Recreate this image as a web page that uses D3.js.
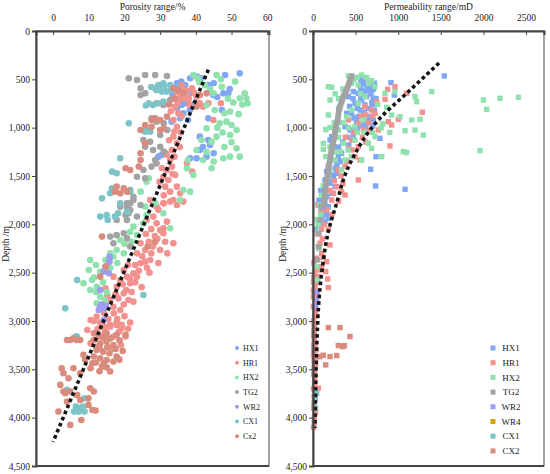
<!DOCTYPE html>
<html>
<head>
<meta charset="utf-8">
<script src="https://cdn.jsdelivr.net/npm/d3@7.9.0/dist/d3.min.js"></script>
<style>
  body { margin: 0; background: #fff; }
</style>
</head>
<body>
<script>
// ** Series names & colours **
const wellNamesLeft = ["HX1", "HR1", "HX2", "TG2", "WR2", "CX1", "Cx2"];
const wellNamesRight = ["HX1", "HR1", "HX2", "TG2", "WR2", "WR4", "CX1", "CX2"];
const wellColors = {
  HX1: "#7fa7f4", HR1: "#f3918e", HX2: "#8fe1ae", TG2: "#a3a3a3",
  WR2: "#a09cf0", WR4: "#d9a106", CX1: "#7cc4c8", Cx2: "#d98b7d", CX2: "#d98b7d"
};

// ** Tick values **
const porosityTicks = [0, 10, 20, 30, 40, 50, 60];
const permTicks = [0, 500, 1000, 1500, 2000, 2500];
const depthTicks = [0, 500, 1000, 1500, 2000, 2500, 3000, 3500, 4000, 4500];

// ** Porosity (%) vs depth (m) **
const porHX1 = [[52.3,438],[34.7,540],[35.9,524],[37,558],[38.4,490],[40.3,472],[41.5,490],[43.5,558],[44.9,662],[47.7,645],[49.1,645],[35.6,714],[36,765],[37,748],[34.7,800],[36.5,851],[37.8,920],[35.6,903],[43.5,903],[41.1,1093],[43.5,1128],[44,1180],[45,1265],[43,1300],[40.2,1317],[38.4,1317],[41.1,1231],[30.4,1283],[31.5,1265],[29.5,1300],[33.2,938],[37,696],[39.8,748],[38.3,817],[45,540],[46,683],[47.3,817],[49.5,600],[42,1200],[36.2,620],[33.5,660],[38.5,640],[48.2,455]];
const porHR1 = [[34.7,628],[35.6,679],[37,645],[38.9,593],[40.2,679],[41.1,748],[42,782],[34.2,782],[35.1,851],[33.7,920],[34.7,990],[33.7,1093],[34.7,1162],[33.3,1231],[32.8,1334],[31.9,1438],[33.3,1403],[32.3,1541],[34.2,1489],[32.8,1662],[34.7,1610],[30.9,1507],[31.4,1610],[35.6,1679],[33.7,1748],[31,1783],[36.5,1765],[39,1455],[37.5,1369],[43.5,748],[44.9,920],[47,748],[36,560],[38,700],
  [27.2,1748],[29,1817],[30.9,1782],[32.8,1765],[34.7,1800],[28.1,1920],[29,1990],[31.9,1972],[30.9,2041],[26.2,1955],[24.5,2196],[26.8,2180],[28,2230],[30,2265],[25.8,2265],[23.5,2300],[24.5,2403],[25.8,2386],[27.2,2369],[21,2420],[19.8,2472],[20.7,2541],[18.8,2576],[21.6,2610],[16.9,2541],[17.8,2645],[14.7,2662],[19.8,2714],[18.3,2766],[16,2783],[16.9,2852],[18.8,2886],[14.3,2921],[12.2,2955],[13.7,3024],[16,3059],[17.8,3041],[19.2,3076],[10.5,2990],[11.4,3128],[13.2,3162],[15,3197],[16.9,3162],[9.6,3093],[10.5,3231],[12.2,3266],[30.9,2093],[31.4,2180],[33.7,2196],[32,2300],[23.5,2541],[22.5,2506],[21.1,2783],[29.5,2400],[27,2500],[24.8,2650],[22,2700],
  [11.4,3000],[13.2,3015],[16,3040],[17.8,3015],[19.2,3040],[21.6,3015],[20.3,3161],[14.5,3060],[30,2060],[28.5,2120],
  [36,600],[37.5,620],[39.5,640],[36.8,700],[38.2,760],[35,740],[33,830],[36,880],[34,1040],[35.8,1050],[32.5,1130],[35.5,1200],[31.8,1280],[34,1300],[33.5,1480],[30.5,1420],[29.8,1560],[31,1700],[29.5,1850],[27.5,2050],[29.2,2150],[26,2100],[27.5,2300],[25,2330],[23,2420],[26.3,2450],[24,2480],[21.5,2560],[19.5,2620],[23,2600],[20.5,2680],[17.5,2720],[15.2,2740],[22.5,2800],[19.8,2830],[17,2920],[20,2950],[15.5,2980],[18,2980],[12.5,3080],[14.5,3110],[18.5,3110],[21,3080],[16.5,3290],[19,3250]];
const porHX2 = [[39.3,455],[40.6,490],[45.8,455],[47.3,576],[51,524],[53.7,645],[54.2,696],[52.3,696],[45,645],[43,765],[45.3,817],[48,851],[49.6,834],[48.6,938],[46.7,955],[50,972],[43,1007],[41.6,1128],[44.4,1145],[45.8,1093],[49.6,1076],[51.4,1024],[40.2,1231],[42,1334],[44.4,1420],[47.7,1317],[49.6,1300],[51.4,1214],[52.3,1300],[37.5,1420],[39.3,1490],[37.8,1334],[24.5,1662],[26.8,1524],[26.2,1560],[38.4,1662],[36.5,1645],[41,530],[44,600],[50.5,740],[46,1000],[53,760],
  [21.6,2076],[23.5,2110],[22.5,2024],[25.3,1990],[26.2,1903],[25.8,1817],[30.9,1886],[28.6,1782],[35.6,1748],[32.8,2041],[18.8,2162],[17.8,2265],[16,2300],[14.7,2369],[10.4,2369],[10,2472],[10.9,2576],[13.2,2490],[12.2,2645],[10.4,2679],[13.2,2748],[14.5,2783],[12.2,2817],[8.5,2610],[16.9,2334],[19.8,2300],
  [47,500],[42.5,560],[49,700],[52,860],[47.5,1050],[50,1150],[48,1200],[45,1350],[43,1250],[54.5,750],[20,2200],[22,2180],[18,2400],[12,2420],[11.5,2550],[14,2600],[16,2450],[12,2700],[15,2700]];
const porTG2 = [[21.2,490],[23.5,507],[25.8,455],[28.6,455],[31.9,465],[24.5,593],[25.8,645],[24.5,662],[30,558],[29,610],[30.9,576],[29,748],[32.8,714],[30.9,765],[27.6,903],[29,938],[31,955],[32,1024],[26.2,1024],[30,1076],[25.3,1128],[27.2,1145],[25.8,1197],[28,1231],[30,1197],[31,1248],[28.6,1334],[27.6,1403],[29,1369],[25.3,1438],[23.5,1507],[25.8,1524],[21.6,1645],[22.5,1714],[21.6,1783],[20.7,1817],
  [18.8,1817],[20.7,1782],[21.6,1852],[20.3,1903],[23.5,1920],[17.8,1955],[20.7,1955],[21.1,1886],[24.5,1800],[22.5,1748],[16,2127],[17.8,2110],[19.8,2093],[16.9,2196],[21.6,2230],[20.7,2145]];
const porWR2 = [[15.8,2334],[14.7,2438],[14.2,2489],[15.6,2506],[13.2,2679],[13.2,2852],[14.3,2869],[12.8,2886],[14.2,2990],[15.8,2386],[13.5,2830],[14.8,2840]];
const porCX1 = [[29.5,558],[30.9,541],[32.8,558],[34.7,593],[30.5,627],[31.9,627],[29,610],[26.8,748],[28,765],[29.5,748],[30.9,731],[25.8,1041],[27.2,1041],[21.2,955],[18.8,1317],[16.5,1455],[17.8,1472],[16.5,1627],[13.7,1731],[16,1679],[18.8,1783],[21.6,1662],[13.2,1920],[15,1903],[17.3,1920],[18.2,1886],[15.3,1955],[20.7,1869],[6.7,2576],[3.4,2869],[6.7,3162],[25.3,2731],[6.4,3161],[3.9,3713],[6.7,3765],[8.8,3800],[6.4,3886],[7.5,3903],[8.3,3886],[5.9,3937],[8.8,3937],[7.2,3937],[27.5,580],[33,610],[31,580],[28.5,590],[26,770]];
const porCx2 = [[24.5,1024],[25.8,972],[27.6,920],[28.6,903],[30,920],[31.9,886],[27.6,990],[30,1024],[31,1007],[25.8,1162],[24.5,1334],[24,1403],[24.5,1265],[21.6,1438],[20.3,1420],[19.8,1627],[17.8,1610],[17.3,1662],[20.7,1662],[18.8,1679],[33.7,593],[35,610],[36.5,640],[41.1,662],[43,645],[40.2,782],[34,700],[32.5,760],
  [13.7,2127],[5.7,3180],[7.6,3197],[4.8,3197],[13.2,2541],[14.7,2438],[28.6,2180],[26.5,2230],
  [2.4,3489],[2.9,3541],[5.7,3489],[4.3,3592],[2,3661],[3.4,3748],[2.9,3730],[4.8,3730],[10.4,3696],[11.4,3730],[6.7,3765],[3.9,3834],[1.5,3937],[4.8,4075],[7.9,4024],[7.6,3817],[9.9,3800],[11,3920],[11.9,3927],[9.9,3868],[7.6,3541],[11,3437],[10.5,3489],
  [11.4,3196],[13.2,3230],[15,3213],[16.9,3248],[12.2,3300],[14,3317],[15.8,3334],[17.8,3368],[11.4,3368],[13.2,3386],[15,3403],[16.9,3420],[11.8,3127],[15,3127],[17.8,3143],[20.3,3143],[16,3523],[13.7,3472],[3.9,3196],[6.6,3196],
  [12.8,3150],[14.2,3170],[16,3180],[18.6,3200],[13,3270],[15.2,3270],[17.5,3290],[19.5,3310],[12,3430],[14.2,3440],[18.6,3400],[13,3520],[15,3480],[9,3400],[8.5,3350]];
const porTrend = [[43.5,400],[0,4250]];

// ** Permeability (mD) vs depth (m) **
const permHX1 = [[1541,465],[915,534],[954,662],[786,1110],[739,1300],[677,1430],[735,1603],[1080,1637],[571,541],[630,559],[669,524],[688,610],[591,627],[532,645],[630,679],[708,696],[571,714],[493,748],[610,765],[649,800],[552,817],[454,851],[591,869],[669,886],[512,938],[610,955],[708,920],[395,851],[376,990],[434,1024],[219,1093],[200,1128],[239,1179],[258,1231],[297,1300],[219,1334],[336,1265],[180,1403],[160,1455],[219,1489],[278,1472],[141,1541],[200,1575],[258,1610],[121,1662],[160,1713],[219,1679],[121,1782],[180,1817],[415,679],[473,627],[532,886],[493,1024],
  [63,1955],[102,1920],[141,1972],[82,2006],[121,1903],[160,1886],[180,1938],[100,1850],[140,1860],[650,600],[700,760],[560,590],[600,840],[720,820],
  [90,1650],[110,1720],[70,1750],[140,1760],[60,1800],[95,1780],[150,1620],[180,1560],[240,1520],[280,1380],[320,1350],[260,1420],[300,1200],[350,1150],[400,1100],[420,1180],[470,1080],[520,1000],[560,980],[620,1000],[650,930],[700,980],[480,900],[430,780],[560,700],[520,800],[470,700],[620,620],[680,650],[560,500],[600,520],[660,560],[710,600],[690,740],[740,700],[720,540]];
const permHR1 = [[876,603],[962,576],[1099,645],[747,731],[845,707],[1283,841],[1002,914],[884,938],[923,972],[767,1024],[903,1189],[532,955],[591,1024],[454,1128],[532,1196],[415,1213],[552,1334],[493,1300],[376,1403],[532,1541],[297,1438],[336,1662],[278,1610],[219,1748],[376,1696],[610,783],[688,817],[669,1024],[415,920],[728,851],
  [82,2196],[200,2213],[160,2386],[102,2437],[149,2489],[172,2565],[180,2654],[82,2472],[63,2541],[102,2300],[120,2340],[4,2679],[23,2748],[4,2851],[20,2950],[16,3127],[8,3250],[25,3400],[12,3500],[23,3678],[63,3695],[10,3850],[30,3950],[15,4050],[5,2600],[30,2800],[12,3050],[35,3300],[20,3600],
  [60,1800],[90,1880],[50,2100],[110,2150],[70,2250],[40,2350],
  [10,2400],[18,2500],[8,2550],[25,2650],[12,2700],[5,2750],[15,2850],[28,2900],[6,3000],[20,3050],[8,3100],[15,3200],[25,3250],[5,3350],[12,3400],[30,3450],[8,3550],[18,3650],[5,3700],[12,3780],[25,3800],[8,3900],[15,4000],[5,4100],[35,2450],[40,2600],[38,2950],
  [580,1100],[620,1150],[460,1230],[400,1350],[330,1500],[250,1550],[200,1650],[300,1760],[160,1850],[220,1900],[130,2000],[180,2050],[100,2050],[240,1680],[350,1580],[620,870],[560,880],[650,950],[700,880],[480,1050],[380,1100]];
const permHX2 = [[415,465],[571,455],[630,480],[180,576],[219,583],[200,714],[454,541],[532,559],[688,514],[728,576],[845,645],[962,627],[1197,679],[1217,731],[1393,627],[2000,714],[2195,696],[2410,686],[2038,810],[1960,1238],[1060,1248],[1099,1258],[806,1300],[688,1214],[1295,1076],[1197,1024],[1080,1031],[1158,920],[1256,914],[1021,886],[923,869],[865,790],[728,1093],[180,869],[121,1162],[121,1224],[493,1128],[415,1231],[336,1438],[376,1334],[297,1024],[493,990],[591,920],[610,679],[532,748],[454,817],[395,886],[356,1162],[649,1162],[571,1334],[258,1334],[200,1438],
  [63,2093],[70,2250],[43,2437],[55,2575],[50,1950],[80,1800],
  [300,800],[250,950],[200,1000],[350,950],[420,1000],[520,1050],[600,1050],[700,1050],[800,1000],[900,1050],[300,1100],[250,1250],[320,1250],[450,1300],[150,1300],[180,1500],[120,1600],[100,1700],[90,1900],[60,2000],[520,480],[480,500],[650,540],[350,600],[300,700],[260,650],[560,650],[760,760],[820,960],[150,1020],[200,1200]];
const permTG2 = [[454,465],[434,507],[415,559],[395,610],[376,645],[356,679],[336,731],[317,783],[305,817],[297,869],[290,920],[278,955],[266,1007],[258,1041],[250,1093],[239,1145],[227,1179],[219,1231],[211,1265],[200,1334],[188,1386],[180,1438],[172,1489],[160,1541],[149,1610],[141,1679],[133,1748],[121,1817],
  [94,1817],[82,1955],[70,2093],[63,2230],[55,2368],
  [445,485],[425,535],[405,585],[385,630],[366,662],[346,705],[326,757],[311,800],[301,843],[293,895],[284,938],[272,981],[262,1024],[254,1067],[244,1119],[233,1162],[223,1205],[215,1248],[205,1300],[194,1360],[184,1412],[176,1463],[166,1515],[154,1575],[145,1645],[137,1713],[127,1782]];
const permWR2 = [[43,2782],[30,2850],[50,2700]];
const permWR4 = [];
const permCX1 = [[43,3747],[23,3816],[30,3900],[30,2050]];
const permCX2 = [[180,3068],[317,3068],[434,3161],[297,3254],[348,3265],[368,3254],[278,3358],[200,3368],[121,3354],[82,3368],[149,3454],[63,3368],[10,3300],[15,3450],[20,3550],[8,3150]];
const permTrend = [[1479,331],[1250,520],[1030,700],[810,880],[640,1060],[500,1260],[380,1480],[282,1768],[176,2089],[117,2400],[70,2782],[50,3123],[35,3537],[23,4106]];

// ** SVG Setup **
const width = 550, height = 474;
const FONT = "'Liberation Serif', 'DejaVu Serif', serif";
const svg = d3.select("body").append("svg")
    .attr("width", width)
    .attr("height", height);

const y = d3.scaleLinear().domain([0, 4500]).range([31, 466]);

function drawPanel(opts) {
    const x = d3.scaleLinear().domain(opts.xDomain).range([opts.left, opts.right]);
    const g = svg.append("g");

    // points
    opts.series.forEach(s => {
        const sel = g.append("g").selectAll("path").data(s.data).enter();
        if (opts.shape === "circle") {
            sel.append("circle")
                .attr("cx", d => x(d[0]))
                .attr("cy", d => y(d[1]))
                .attr("r", 3.3)
                .attr("fill", wellColors[s.name]);
        } else {
            sel.append("rect")
                .attr("x", d => x(d[0]) - 2.7)
                .attr("y", d => y(d[1]) - 2.7)
                .attr("width", 5.4)
                .attr("height", 5.4)
                .attr("fill", wellColors[s.name]);
        }
    });

    // trend line
    g.append("path")
        .datum(opts.trend)
        .attr("d", d3.line().x(d => x(d[0])).y(d => y(d[1])).curve(d3.curveMonotoneY))
        .attr("fill", "none")
        .attr("stroke", "#151515")
        .attr("stroke-width", 3.6)
        .attr("stroke-dasharray", "3.6,3");

    // frame
    g.append("rect")
        .attr("x", opts.left).attr("y", 31)
        .attr("width", opts.right - opts.left).attr("height", 435)
        .attr("fill", "none").attr("stroke", "#444").attr("stroke-width", 1);

    // x axis on top, ticks pointing inward
    const xAxis = g.append("g")
        .attr("transform", "translate(0,31)")
        .call(d3.axisBottom(x).tickValues(opts.ticks).tickSize(4).tickFormat(d3.format("d")));
    xAxis.select(".domain").attr("stroke", "#444").attr("stroke-width", 2);
    xAxis.selectAll(".tick line").attr("stroke", "#444");
    xAxis.selectAll(".tick text").attr("y", -13).attr("dy", "0.32em")
        .style("font-size", "9.5px");

    // y axis on left
    const yAxis = g.append("g")
        .attr("transform", `translate(${opts.left},0)`)
        .call(d3.axisLeft(y).tickValues(depthTicks).tickSize(4).tickPadding(2));
    yAxis.select(".domain").attr("stroke", "#444").attr("stroke-width", 2);
    yAxis.selectAll(".tick line").attr("stroke", "#444");
    yAxis.selectAll(".tick text").style("font-size", "9.5px");

    // bottom border heavier
    g.append("line")
        .attr("x1", opts.left).attr("x2", opts.right)
        .attr("y1", 466).attr("y2", 466)
        .attr("stroke", "#444").attr("stroke-width", 2);

    // titles
    g.append("text")
        .attr("x", (opts.left + opts.right) / 2).attr("y", 10)
        .attr("text-anchor", "middle")
        .style("font-size", "9.5px")
        .text(opts.title);
    g.append("text")
        .attr("transform", `translate(${opts.yTitleX},244) rotate(-90)`)
        .attr("text-anchor", "middle")
        .attr("dy", "0.32em")
        .style("font-size", "9.5px")
        .text("Depth /m");

    // legend
    const leg = g.append("g");
    opts.series.forEach((s, i) => {
        const ly = 348 + i * 14.7;
        if (opts.shape === "circle") {
            leg.append("circle").attr("cx", opts.legendX).attr("cy", ly).attr("r", 2)
                .attr("fill", wellColors[s.name]);
        } else {
            leg.append("rect").attr("x", opts.legendX - 2.5).attr("y", ly - 2.5)
                .attr("width", 5).attr("height", 5)
                .attr("fill", wellColors[s.name]);
        }
        leg.append("text")
            .attr("x", opts.legendTextX).attr("y", ly)
            .attr("dy", "0.35em")
            .attr("text-anchor", opts.legendAnchor)
            .style("font-size", opts.legendFont)
            .text(s.name);
    });
}

// ** Left panel: porosity **
const porSeries = { HX1: porHX1, HR1: porHR1, HX2: porHX2, TG2: porTG2, WR2: porWR2, CX1: porCX1, Cx2: porCx2 };
drawPanel({
    left: 36, right: 269, xDomain: [-4.8, 60.5], ticks: porosityTicks,
    title: "Porosity range/%", yTitleX: 6, shape: "circle",
    series: wellNamesLeft.map(n => ({ name: n, data: porSeries[n] })),
    trend: porTrend,
    legendX: 237, legendTextX: 243, legendAnchor: "start", legendFont: "8px"
});

// ** Right panel: permeability **
const permSeries = { HX1: permHX1, HR1: permHR1, HX2: permHX2, TG2: permTG2, WR2: permWR2, WR4: permWR4, CX1: permCX1, CX2: permCX2 };
drawPanel({
    left: 313, right: 544, xDomain: [0, 2711], ticks: permTicks,
    title: "Permeability range/mD", yTitleX: 283, shape: "square",
    series: wellNamesRight.map(n => ({ name: n, data: permSeries[n] })),
    trend: permTrend,
    legendX: 493, legendTextX: 511, legendAnchor: "middle", legendFont: "9px"
});

// serif everywhere
svg.selectAll("text").attr("font-family", FONT).style("font-family", FONT).style("fill", "#222");
</script>
</body>
</html>
